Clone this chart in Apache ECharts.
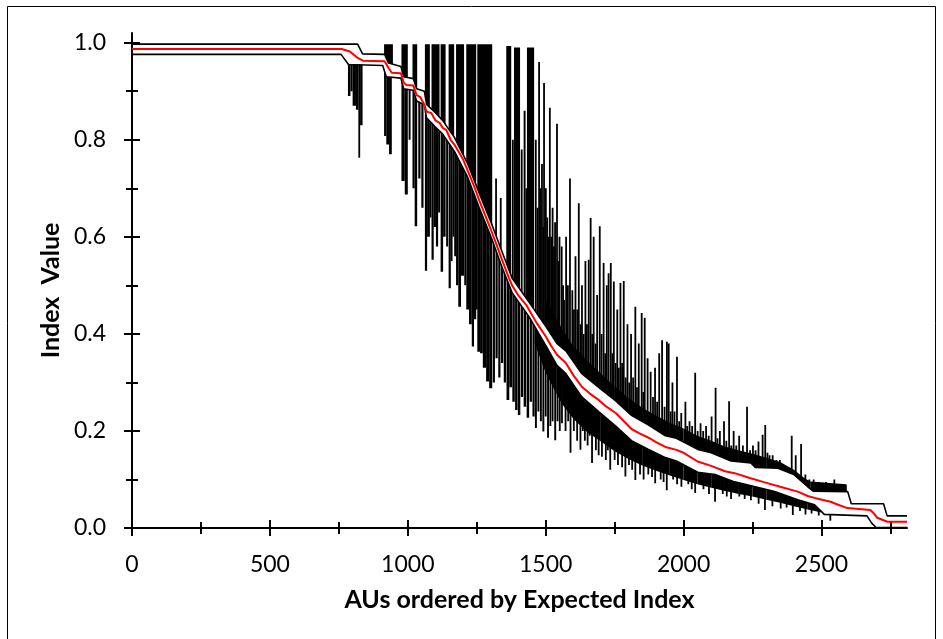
<!DOCTYPE html>
<html><head><meta charset="utf-8">
<script src="https://cdn.jsdelivr.net/npm/echarts@6/dist/echarts.min.js"></script>
<style>html,body{margin:0;padding:0;background:#fff}#c{width:943px;height:639px}</style>
</head><body><div id="c"></div>
<script>
const xMajorTicks = [0,500,1000,1500,2000,2500];
const xMinorTicks = [250,750,1250,1750,2250,2750];
const yMajorTicks = [0,0.2,0.4,0.6,0.8,1.0];
const yMinorTicks = [0.1,0.3,0.5,0.7,0.9];

const expectedIndex = [[0,0.987],[760,0.987],[790,0.982],[815,0.97],[837,0.963],[916,0.962],[930,0.948],[942,0.938],[975,0.937],[985,0.918],[995,0.913],[1020,0.912],[1032,0.892],[1045,0.888],[1060,0.872],[1068,0.858],[1085,0.855],[1100,0.84],[1115,0.835],[1126,0.825],[1140,0.82],[1155,0.8],[1169,0.79],[1185,0.775],[1200,0.76],[1216,0.738],[1240,0.705],[1259,0.675],[1280,0.645],[1303,0.612],[1321,0.585],[1340,0.555],[1367,0.515],[1378,0.5],[1400,0.48],[1429,0.46],[1440,0.449],[1470,0.42],[1501,0.394],[1520,0.375],[1541,0.357],[1573,0.34],[1600,0.315],[1631,0.291],[1660,0.277],[1692,0.264],[1720,0.25],[1754,0.237],[1780,0.222],[1811,0.204],[1840,0.195],[1873,0.186],[1900,0.177],[1934,0.167],[1974,0.161],[2000,0.155],[2051,0.137],[2100,0.128],[2150,0.117],[2185,0.113],[2240,0.103],[2294,0.094],[2350,0.085],[2414,0.075],[2450,0.066],[2475,0.062],[2533,0.054],[2560,0.048],[2594,0.041],[2677,0.037],[2690,0.03],[2702,0.021],[2739,0.013],[2810,0.013]];

const upperBound = [[0,0.997],[818,0.997],[836,0.977],[916,0.976],[930,0.958],[975,0.951],[985,0.93],[1020,0.926],[1032,0.905],[1060,0.9],[1068,0.873],[1100,0.856],[1126,0.84],[1169,0.805],[1216,0.752],[1259,0.69],[1303,0.628],[1340,0.572],[1378,0.515],[1440,0.465],[1501,0.415],[1541,0.38],[1573,0.365],[1631,0.318],[1692,0.29],[1754,0.262],[1811,0.232],[1873,0.212],[1934,0.19],[1974,0.185],[2051,0.162],[2100,0.155],[2172,0.138],[2244,0.134],[2260,0.125],[2342,0.123],[2400,0.11],[2450,0.085],[2470,0.076],[2595,0.075],[2608,0.05],[2725,0.05],[2738,0.025],[2810,0.025]];

const lowerBound = [[0,0.976],[758,0.976],[785,0.955],[909,0.953],[922,0.93],[975,0.927],[985,0.905],[1020,0.902],[1032,0.88],[1060,0.872],[1068,0.845],[1100,0.826],[1126,0.812],[1169,0.776],[1216,0.724],[1259,0.66],[1303,0.598],[1340,0.54],[1378,0.485],[1440,0.435],[1501,0.375],[1541,0.335],[1573,0.318],[1631,0.27],[1692,0.24],[1754,0.21],[1811,0.18],[1873,0.162],[1934,0.145],[1974,0.138],[2051,0.115],[2114,0.11],[2185,0.095],[2260,0.085],[2330,0.075],[2414,0.058],[2475,0.048],[2510,0.028],[2665,0.025],[2682,0.01],[2698,0.001],[2810,0.001]];

// upward excursions above the upper bound: [fromX, toX, peak]
const upperSpikes = [[914,946,0.997],[977,1000,0.997],[1017,1034,0.997],[1062,1080,0.997],[1086,1115,0.997],[1119,1137,0.997],[1148,1168,0.997],[1175,1204,0.997],[1212,1248,0.997],[1252,1306,0.997],
[1318,1322,0.72],[1335,1339,0.68],[1357,1375,0.993],[1379,1383,0.8],[1385,1407,0.99],[1411,1415,0.78],[1420,1427,0.86],[1429,1431,0.7],[1432,1458,0.99],[1462,1466,0.8],[1469,1472,0.66],[1474,1478,0.96],[1480,1483,0.7],[1485,1488,0.75],[1490,1492,0.62],[1492,1496,0.917],[1499,1502,0.7],[1504,1507,0.64],[1509,1511,0.6],[1513,1517,0.866],[1519,1521,0.6],[1523,1527,0.66],[1529,1531,0.58],[1532,1536,0.63],[1539,1543,0.833],[1545,1547,0.55],[1548,1552,0.6],[1556,1560,0.58],[1562,1564,0.5],[1565,1568,0.47],[1572,1576,0.6],[1579,1582,0.5],[1586,1590,0.72],[1595,1598,0.49],[1601,1604,0.45],[1606,1610,0.56],[1613,1616,0.45],[1618,1622,0.669],[1625,1628,0.42],[1630,1633,0.5],[1636,1639,0.4],[1642,1646,0.55],[1648,1651,0.42],[1654,1658,0.553],[1661,1665,0.639],[1668,1670,0.4],[1672,1676,0.6],[1680,1682,0.38],[1685,1688,0.48],[1694,1698,0.622],[1701,1704,0.4],[1708,1712,0.546],[1715,1717,0.36],[1720,1723,0.5],[1726,1730,0.525],[1734,1738,0.546],[1741,1743,0.36],[1745,1749,0.508],[1752,1755,0.34],[1758,1761,0.45],[1764,1766,0.33],[1769,1773,0.505],[1776,1778,0.34],[1781,1785,0.509],[1789,1791,0.31],[1795,1798,0.42],[1802,1804,0.3],[1808,1811,0.4],[1816,1818,0.31],[1823,1827,0.456],[1830,1832,0.29],[1836,1839,0.38],[1846,1850,0.443],[1853,1855,0.28],[1857,1861,0.433],[1868,1871,0.35],[1879,1882,0.322],[1888,1890,0.27],[1895,1898,0.33],[1903,1905,0.26],[1910,1913,0.36],[1920,1924,0.387],[1930,1932,0.25],[1938,1941,0.384],[1944,1948,0.38],[1952,1954,0.24],[1958,1961,0.3],[1966,1968,0.24],[1974,1978,0.353],[1983,1985,0.22],[1990,1993,0.237],[2005,2008,0.26],[2012,2014,0.21],[2020,2023,0.22],[2030,2032,0.21],[2040,2044,0.32],[2050,2052,0.2],[2060,2063,0.216],[2070,2072,0.2],[2080,2083,0.21],[2090,2092,0.19],[2100,2103,0.23],[2114,2118,0.289],[2122,2124,0.185],[2130,2133,0.2],[2145,2148,0.22],[2154,2156,0.18],[2163,2167,0.261],[2172,2174,0.17],[2180,2183,0.2],[2190,2192,0.17],[2200,2203,0.19],[2214,2216,0.17],[2228,2232,0.25],[2240,2242,0.16],[2250,2253,0.17],[2260,2262,0.16],[2270,2273,0.178],[2285,2288,0.192],[2294,2298,0.212],[2303,2305,0.155],[2310,2313,0.15],[2322,2324,0.15],[2335,2338,0.14],[2348,2350,0.14],[2360,2363,0.13],[2375,2377,0.125],[2390,2394,0.19],[2405,2408,0.15],[2424,2428,0.173],[2440,2443,0.11],[2455,2457,0.1],[2470,2473,0.1],[2490,2493,0.095],[2503,2505,0.093],[2515,2518,0.095],[2530,2532,0.09],[2545,2548,0.1],[2560,2562,0.09],[2586,2590,0.089]];

// outer edge of the dense noise just above the upper bound: [x, y]
const upperBandEdge = [[1500,0.47],[1540,0.43],[1560,0.41],[1600,0.375],[1650,0.345],[1700,0.318],[1750,0.292],[1800,0.268],[1850,0.248],[1900,0.232],[1950,0.217],[2000,0.205],[2050,0.19],[2100,0.18],[2150,0.168],[2200,0.16],[2250,0.153],[2300,0.145],[2350,0.136],[2400,0.12],[2440,0.102],[2460,0.096],[2590,0.09]];

// downward excursions below the lower bound: [fromX, toX, trough]
const lowerSpikes = [[783,792,0.89],[792,800,0.9],[800,812,0.87],[812,821,0.862],[822,826,0.763],[827,836,0.83],
[914,922,0.808],[922,932,0.79],[932,942,0.77],
[977,989,0.715],[989,1000,0.687],[1003,1010,0.8],
[1017,1025,0.7],[1025,1034,0.622],[1038,1046,0.72],[1049,1057,0.66],
[1062,1070,0.53],[1070,1080,0.6],[1080,1085,0.64],
[1086,1094,0.553],[1094,1102,0.62],[1102,1110,0.58],[1110,1117,0.65],
[1119,1128,0.528],[1128,1137,0.6],[1139,1146,0.58],
[1148,1156,0.494],[1156,1162,0.55],[1162,1168,0.6],[1169,1174,0.56],
[1175,1183,0.5],[1183,1193,0.456],[1193,1204,0.52],[1205,1211,0.5],
[1212,1222,0.45],[1222,1232,0.42],[1232,1240,0.374],[1240,1248,0.43],[1248,1252,0.45],
[1252,1262,0.363],[1262,1272,0.36],[1272,1284,0.33],[1284,1295,0.302],[1295,1306,0.288],
[1308,1316,0.3],[1318,1326,0.35],[1328,1336,0.31],[1338,1346,0.34],[1348,1356,0.3],[1358,1368,0.264],[1368,1378,0.29],[1379,1388,0.26],[1389,1398,0.243],[1399,1408,0.233],[1410,1418,0.27],[1420,1429,0.25],[1431,1440,0.227],[1442,1450,0.26],[1452,1460,0.23],[1461,1468,0.206],[1470,1477,0.24],[1479,1486,0.22],[1488,1495,0.199],[1497,1503,0.23],[1505,1512,0.186],[1514,1520,0.21],[1522,1528,0.22],[1531,1538,0.181],[1540,1546,0.22],[1548,1554,0.2],[1556,1562,0.216],
[1570,1574,0.2],[1580,1583,0.22],[1588,1592,0.155],[1600,1604,0.2],[1612,1616,0.18],[1624,1628,0.161],[1633,1636,0.2],[1640,1644,0.18],[1650,1654,0.17],[1658,1661,0.19],[1666,1670,0.134],[1680,1684,0.16],[1690,1694,0.15],[1702,1706,0.147],[1716,1720,0.14],[1724,1727,0.16],[1732,1736,0.12],[1748,1752,0.14],[1760,1764,0.13],[1775,1779,0.125],[1787,1791,0.106],[1800,1804,0.13],[1812,1815,0.12],[1823,1827,0.099],[1840,1844,0.11],[1853,1857,0.1],[1870,1874,0.11],[1884,1887,0.105],[1895,1899,0.092],[1915,1919,0.1],[1926,1929,0.095],[1937,1941,0.078],[1960,1964,0.1],[1975,1978,0.09],[1990,1994,0.085],[2015,2019,0.09],[2028,2031,0.08],[2040,2044,0.072],[2070,2074,0.08],[2090,2094,0.07],[2112,2116,0.054],[2140,2144,0.07],[2155,2158,0.065],[2170,2174,0.06],[2200,2204,0.065],[2220,2223,0.06],[2242,2246,0.057],[2270,2274,0.05],[2293,2297,0.037],[2320,2324,0.045],[2350,2354,0.04],[2372,2375,0.042],[2394,2398,0.027],[2420,2424,0.035],[2440,2444,0.028],[2462,2466,0.03],[2488,2492,0.026],[2530,2534,0.015]];

// outer edge of the dense noise just below the lower bound: [x, y]
const lowerBandEdge = [[1460,0.38],[1500,0.32],[1540,0.275],[1560,0.255],[1600,0.225],[1650,0.198],[1700,0.178],[1750,0.158],[1800,0.142],[1850,0.129],[1900,0.118],[1950,0.108],[2000,0.099],[2050,0.09],[2100,0.083],[2150,0.076],[2200,0.07],[2250,0.065],[2300,0.058],[2350,0.052],[2400,0.045],[2450,0.038],[2500,0.032]];

function valueAt(line, x) {
  for (let i = 1; i < line.length; i++) {
    if (x <= line[i][0]) {
      const a = line[i-1], b = line[i];
      const t = (x - a[0]) / (b[0] - a[0] || 1);
      return a[1] + t * (b[1] - a[1]);
    }
  }
  return line[line.length-1][1];
}
// polygon (in data space) between a bound line and a top edge from x0 to x1
function poly(line, x0, x1, t0, t1) {
  const pts = [[x0, valueAt(line, x0)]];
  line.forEach(p => { if (p[0] > x0 && p[0] < x1) pts.push([p[0], p[1]]); });
  pts.push([x1, valueAt(line, x1)], [x1, t1], [x0, t0]);
  return pts;
}
function spikePolys(list, line) { return list.map(s => poly(line, s[0], s[1], s[2], s[2])); }
function bandPolys(edge, line) {
  const out = [];
  for (let i = 0; i < edge.length - 1; i++) out.push(poly(line, edge[i][0], edge[i+1][0], edge[i][1], edge[i+1][1]));
  return out;
}

function makeSeries(name, polys) {
  return {
    type: 'custom', name: name, clip: true, z: 2,
    encode: {x: [0, 1], y: [2, 3]},
    data: polys.map(p => [p[0][0], p[p.length-3][0], Math.min(...p.map(q => q[1])), Math.max(...p.map(q => q[1]))]),
    renderItem: function (params, api) {
      const pts = polys[params.dataIndex].map(q => api.coord(q));
      let mn = Infinity, mx = -Infinity;
      pts.forEach(p => { mn = Math.min(mn, p[0]); mx = Math.max(mx, p[0]); });
      if (mx - mn < 1.8) {
        const c = (mn + mx) / 2;
        pts.forEach(p => { p[0] = (p[0] - mn <= mx - p[0]) ? c - 0.9 : c + 0.9; });
      }
      return {type: 'polygon', shape: {points: pts}, style: {fill: '#000', stroke: null}};
    }
  };
}

const FONT = 'Lato, "Open Sans", sans-serif';
const xBase = {type: 'value', min: 0, max: 2810, position: 'bottom', splitLine: {show: false}};
const yBase = {type: 'value', min: 0, max: 1.02, position: 'left', splitLine: {show: false}};
function tickAxis(base, values, inside, len) {
  return Object.assign({}, base, {
    axisLine: {show: false, onZero: false},
    axisTick: {show: true, inside: inside, length: len, customValues: values, lineStyle: {color: '#000', width: 2}},
    axisLabel: {show: false}
  });
}

const chart = echarts.init(document.getElementById('c'), null, {renderer: 'canvas'});
chart.setOption({
  animation: false,
  backgroundColor: '#fff',
  grid: {left: 132, right: 36, top: 33, bottom: 111, containLabel: false},
  graphic: [{type: 'rect', shape: {x: 7.5, y: 6.5, width: 928, height: 650}, style: {fill: null, stroke: '#000', lineWidth: 1}, silent: true}],
  xAxis: [
    Object.assign({}, xBase, {
      axisLine: {show: true, onZero: false, lineStyle: {color: '#000', width: 2}},
      axisTick: {show: true, inside: false, length: 8, customValues: xMajorTicks, lineStyle: {color: '#000', width: 2}},
      axisLabel: {customValues: xMajorTicks, margin: 25, color: '#000', fontFamily: FONT, fontSize: 23, formatter: v => String(v)},
      name: 'AUs ordered by Expected Index', nameLocation: 'middle', nameGap: 59,
      nameTextStyle: {color: '#000', fontFamily: FONT, fontSize: 25, fontWeight: 'bold'}
    }),
    tickAxis(xBase, xMajorTicks, true, 8),
    tickAxis(xBase, xMinorTicks, false, 6),
    tickAxis(xBase, xMinorTicks, true, 6)
  ],
  yAxis: [
    Object.assign({}, yBase, {
      axisLine: {show: true, onZero: false, lineStyle: {color: '#000', width: 2}},
      axisTick: {show: true, inside: false, length: 8, customValues: yMajorTicks, lineStyle: {color: '#000', width: 2}},
      axisLabel: {customValues: yMajorTicks, margin: 26, color: '#000', fontFamily: FONT, fontSize: 23, formatter: v => v.toFixed(1)},
      name: 'Index  Value', nameLocation: 'middle', nameGap: 62, nameRotate: 90,
      nameTextStyle: {color: '#000', fontFamily: FONT, fontSize: 25, fontWeight: 'bold', padding: [0, 20, 0, 0]}
    }),
    tickAxis(yBase, yMajorTicks, true, 8),
    tickAxis(yBase, yMinorTicks, false, 6),
    tickAxis(yBase, yMinorTicks, true, 6)
  ],
  series: [
    makeSeries('upper band', bandPolys(upperBandEdge, upperBound)),
    makeSeries('upper excursions', spikePolys(upperSpikes, upperBound)),
    makeSeries('lower band', bandPolys(lowerBandEdge, lowerBound)),
    makeSeries('lower excursions', spikePolys(lowerSpikes, lowerBound)),
    {type: 'line', name: 'upper', data: upperBound, showSymbol: false, symbol: 'none', lineStyle: {color: '#000', width: 1.6}, z: 3},
    {type: 'line', name: 'lower', data: lowerBound, showSymbol: false, symbol: 'none', lineStyle: {color: '#000', width: 1.6}, z: 3},
    {type: 'line', name: 'expected', data: expectedIndex, showSymbol: false, symbol: 'none', lineStyle: {color: '#ff0000', width: 2}, z: 4}
  ]
});
</script></body></html>
